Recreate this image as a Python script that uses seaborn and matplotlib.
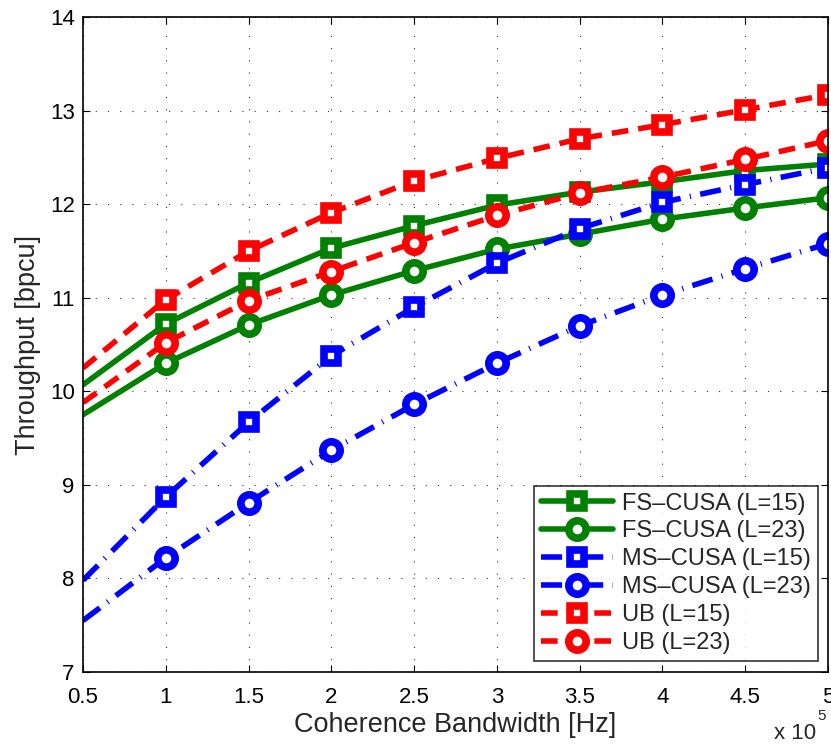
import numpy as np
import pandas as pd
import matplotlib
matplotlib.use("Agg")
import matplotlib.pyplot as plt
import seaborn as sns

# ---- data (x in units of 1e5 Hz) ----
bandwidth = [0.5, 1.0, 1.5, 2.0, 2.5, 3.0, 3.5, 4.0, 4.5, 5.0]
fs_l15 = [10.07, 10.72, 11.16, 11.53, 11.77, 11.99, 12.13, 12.24, 12.36, 12.43]
fs_l23 = [9.75, 10.30, 10.71, 11.03, 11.29, 11.52, 11.68, 11.84, 11.96, 12.07]
ms_l15 = [7.98, 8.87, 9.67, 10.38, 10.90, 11.37, 11.74, 12.02, 12.21, 12.39]
ms_l23 = [7.55, 8.22, 8.81, 9.37, 9.86, 10.30, 10.70, 11.03, 11.31, 11.58]
ub_l15 = [10.25, 10.98, 11.50, 11.91, 12.25, 12.49, 12.70, 12.85, 13.01, 13.17]
ub_l23 = [9.88, 10.52, 10.97, 11.28, 11.59, 11.88, 12.12, 12.29, 12.48, 12.68]

labels = ["FS–CUSA (L=15)", "FS–CUSA (L=23)", "MS–CUSA (L=15)",
          "MS–CUSA (L=23)", "UB (L=15)", "UB (L=23)"]
xticks = [0.5, 1, 1.5, 2, 2.5, 3, 3.5, 4, 4.5, 5]
xticklabels = ["0.5", "1", "1.5", "2", "2.5", "3", "3.5", "4", "4.5", "5"]
yticks = [7, 8, 9, 10, 11, 12, 13, 14]

sns.set_style("ticks")
plt.rcParams["font.family"] = ["Liberation Sans", "DejaVu Sans"]
plt.rcParams["xtick.direction"] = "in"
plt.rcParams["ytick.direction"] = "in"

fig = plt.figure(figsize=(8.31, 7.45), dpi=100)
ax = fig.add_axes([0.0999, 0.098, 0.8965, 0.879])

series = [fs_l15, fs_l23, ms_l15, ms_l23, ub_l15, ub_l23]
colors = ["#008000", "#008000", "#0000ff", "#0000ff", "#ff0000", "#ff0000"]
markers = ["s", "o", "s", "o", "s", "o"]
dashes = [None, None, (3.8, 1.7, 0.2, 1.7), (3.8, 1.7, 0.2, 1.7), (3.0, 1.8), (3.0, 1.8)]
msizes = [10.0, 12.5, 10.0, 12.5, 10.0, 12.5]

handles = []
for vals, col, mk, ds, ms, lab in zip(series, colors, markers, dashes, msizes, labels):
    df = pd.DataFrame({"x": bandwidth, "y": vals})
    sns.lineplot(data=df, x="x", y="y", ax=ax, color=col, lw=4.0,
                 marker=mk, markersize=ms, markeredgewidth=5.5,
                 markerfacecolor="white", markeredgecolor=col,
                 markevery=list(range(1, len(bandwidth))), label=lab,
                 legend=False, clip_on=True)
    line = ax.lines[-1]
    if ds is not None:
        line.set_dashes(ds)
        line.set_dash_capstyle("butt")
    handles.append(line)

ax.set_xlim(0.5, 5)
ax.set_ylim(7, 14)
ax.set_xticks(xticks)
ax.set_xticklabels(xticklabels)
ax.set_yticks(yticks)
ax.tick_params(labelsize=16, length=5, width=0.8, top=True, right=True,
               colors="black")
ax.tick_params(axis="x", pad=10.5)
ax.tick_params(axis="y", pad=6)
ax.grid(True, color="#333333", linestyle=(0, (1, 10)), lw=0.8)
for s in ax.spines.values():
    s.set_visible(True)
    s.set_linewidth(1.2)
    s.set_color("black")

ax.set_xlabel("Coherence Bandwidth [Hz]", fontsize=19.5, labelpad=3)
ax.set_ylabel("Throughput [bpcu]", fontsize=19.5, labelpad=6)

leg = ax.legend(handles=handles, labels=labels, loc="lower right",
                bbox_to_anchor=(0.9865, 0.0165), fontsize=17, handlelength=3.05,
                numpoints=1, frameon=True, fancybox=False, borderpad=0.3,
                labelspacing=0.25, handletextpad=0.38, borderaxespad=0.0)
leg.get_frame().set_edgecolor("black")
leg.get_frame().set_linewidth(1.2)

fig.text(0.932, 0.008, "x 10", fontsize=16)
fig.text(0.983, 0.034, "5", fontsize=11)

fig.savefig("out.png", dpi=100)
